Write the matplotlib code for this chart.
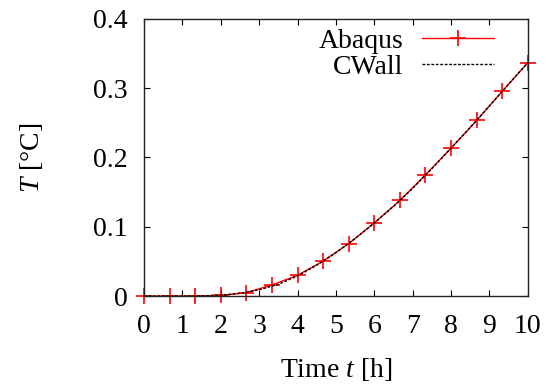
import numpy as np
import matplotlib
matplotlib.use("Agg")
import matplotlib.pyplot as plt

plt.rcParams['font.family'] = ['Liberation Serif', 'DejaVu Serif']
plt.rcParams['mathtext.fontset'] = 'custom'
plt.rcParams['mathtext.rm'] = 'Liberation Serif'
plt.rcParams['mathtext.it'] = 'Liberation Serif:italic'

# Abaqus results (markers every 2/3 h)
t_abaqus = [0, 0.667, 1.333, 2.0, 2.667, 3.333, 4.0, 4.667, 5.333, 6.0,
            6.667, 7.333, 8.0, 8.667, 9.333, 10.0]
T_abaqus = [0, 0, 0, 0.001, 0.005, 0.016, 0.030, 0.0505, 0.0757, 0.1055,
            0.138, 0.175, 0.2135, 0.2535, 0.2955, 0.337]

# CWall results
t_cwall = [0, 0.5, 1.0, 1.5, 2.0, 2.5, 3.0, 3.5, 4.0, 4.5, 5.0, 5.5, 6.0,
           6.5, 7.0, 7.5, 8.0, 8.5, 9.0, 9.5, 10.0]
T_cwall = [0, 0, 0, 0.0003, 0.0012, 0.0038, 0.0090, 0.0170, 0.0290, 0.0445,
           0.0625, 0.0830, 0.1055, 0.1295, 0.1555, 0.1840, 0.2135, 0.2435,
           0.2745, 0.3060, 0.3370]

xticks = [0, 1, 2, 3, 4, 5, 6, 7, 8, 9, 10]
yticks = [0, 0.1, 0.2, 0.3, 0.4]

fs = 20

fig = plt.figure(figsize=(5.58, 3.86), dpi=100)
ax = fig.add_axes([0.258, 0.233, 0.688, 0.718])

ax.plot(t_abaqus, T_abaqus, color='red', lw=1.0, marker='+', ms=11.5,
        mew=1.2, clip_on=False, label='Abaqus')
ax.plot(t_cwall, T_cwall, color='black', lw=1.0, dashes=(2, 1.2),
        clip_on=False, label='CWall')

ax.set_xlim(0, 10)
ax.set_ylim(0, 0.4)
ax.set_xticks(xticks)
ax.set_yticks(yticks)
ax.set_xticklabels([str(v) for v in xticks])
ax.set_yticklabels(['0', '0.1', '0.2', '0.3', '0.4'])
ax.tick_params(direction='in', length=4.5, width=0.8, labelsize=fs,
               top=True, right=True)
ax.tick_params(axis='x', pad=13)
ax.tick_params(axis='y', pad=12)
for s in ax.spines.values():
    s.set_linewidth(1.0)
    s.set_color('#222222')

ax.set_xlabel('Time $t$ [h]', fontsize=fs, labelpad=12)
ax.set_ylabel('$T$ [°C]', fontsize=fs, labelpad=34)

ax.legend(loc='upper right', frameon=False, markerfirst=False, fontsize=fs,
          handlelength=2.6, handletextpad=0.65, labelspacing=0.0,
          numpoints=1, borderaxespad=0.0, bbox_to_anchor=(0.94, 1.005))

fig.savefig('out.png', dpi=100)
